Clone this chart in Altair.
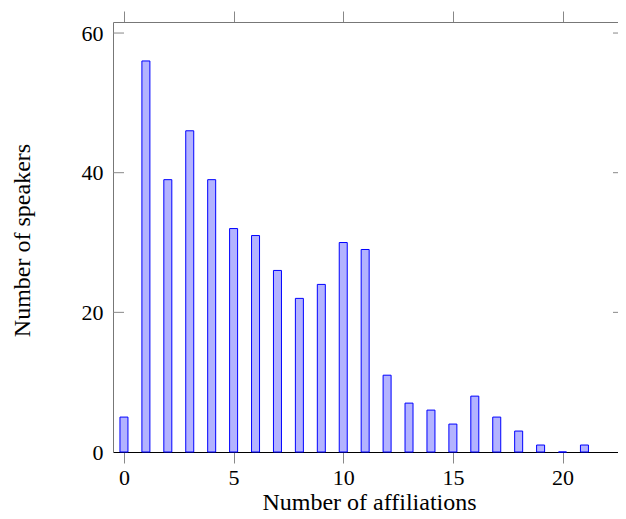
import altair as alt
import pandas as pd

affiliations = list(range(0, 22))
speakers = [5, 56, 39, 46, 39, 32, 31, 26, 22, 24, 30, 29, 11, 7, 6, 4, 8, 5, 3, 1, 0, 1]
x_ticks = [0, 5, 10, 15, 20]
y_ticks = [0, 20, 40, 60]

df = pd.DataFrame({"aff": affiliations, "n": speakers})
xt = pd.DataFrame({"v": x_ticks})
yt = pd.DataFrame({"v": [v for v in y_ticks if v > 0]})

FONT = "Liberation Serif"
LBL = 22
TTL = 24
W, H = 505, 430
xscale = alt.Scale(domain=[-0.5, 22.53], nice=False, zero=False, padding=0)
yscale = alt.Scale(domain=[0, 61.58], nice=False, zero=False, padding=0)

bars = alt.Chart(df).mark_bar(size=8, fill="#b3b3ff", stroke="#0000ff", strokeWidth=1).encode(
    x=alt.X("aff:Q", scale=xscale,
            axis=alt.Axis(orient="bottom", values=x_ticks, grid=False, tickSize=11,
                          tickColor="#888888", domainColor="#000000", domainWidth=1.2,
                          labelPadding=4, labelFont=FONT, labelFontSize=LBL, labelColor="#000000",
                          title="Number of affiliations", titleFont=FONT, titleFontSize=TTL,
                          titleFontWeight="normal", titleColor="#000000",
                          titleBaseline="alphabetic", titleAlign="center",
                          titleX=256, titleY=57)),
    y=alt.Y("n:Q", scale=yscale,
            axis=alt.Axis(orient="left", values=y_ticks, grid=False, tickSize=0,
                          domainColor="#777777", labelPadding=10, labelFont=FONT,
                          labelFontSize=LBL, labelColor="#000000",
                          title="Number of speakers", titleFont=FONT, titleFontSize=TTL,
                          titleFontWeight="normal", titleColor="#000000",
                          titleAngle=270, titleBaseline="alphabetic", titleAlign="center",
                          titleX=-84, titleY=218)),
)

top_axis = alt.Chart(xt).mark_point(opacity=0).encode(
    x=alt.X("v:Q", scale=xscale,
            axis=alt.Axis(orient="top", values=x_ticks, grid=False, tickSize=11,
                          tickColor="#888888", domainColor="#777777", labels=False, title=None)),
    y=alt.value(0),
)

left_ticks = alt.Chart(yt).mark_rule(color="#888888", strokeWidth=1).encode(
    y=alt.Y("v:Q", scale=yscale),
    x=alt.value(0), x2=alt.value(11),
)
right_ticks = alt.Chart(yt).mark_rule(color="#888888", strokeWidth=1).encode(
    y=alt.Y("v:Q", scale=yscale),
    x=alt.value(W - 5), x2=alt.value(W),
)

chart = alt.layer(left_ticks, right_ticks, bars, top_axis).resolve_axis(
    x="independent"
).properties(
    width=W, height=H,
    autosize=alt.AutoSizeParams(type="none"),
    padding={"left": 105, "top": 14, "right": 0, "bottom": 59},
    background="white",
).configure_view(stroke=None)

chart.save("out.html", embed_options={"renderer": "svg", "actions": False})
